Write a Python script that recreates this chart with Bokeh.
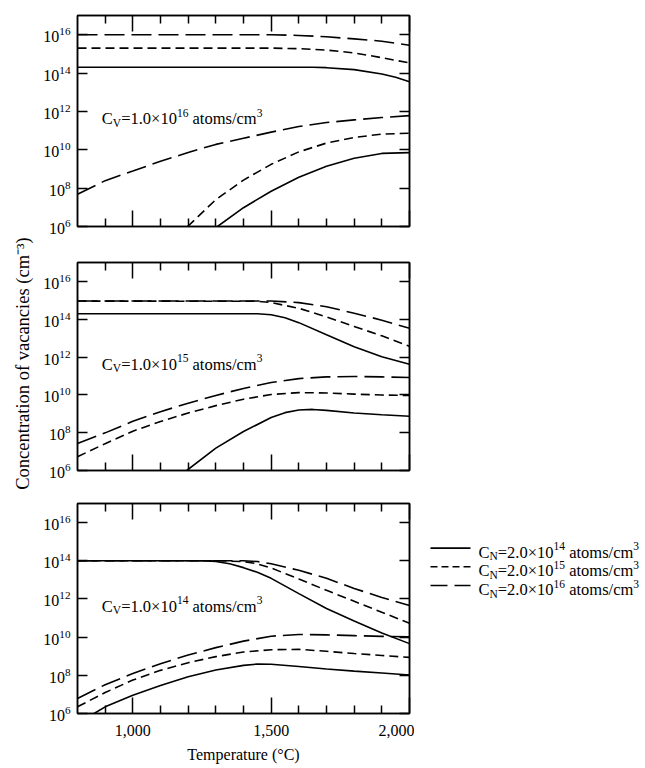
import numpy as np
from bokeh.plotting import figure
from bokeh.models import (Range1d, FixedTicker, LogAxis, LinearAxis,
                          NumeralTickFormatter, CustomJSTickFormatter, Label)
from bokeh.layouts import column, row
from bokeh.embed import file_html
from bokeh.resources import INLINE

SERIF = "Liberation Serif"

# ---------------- data (concentrations stored as log10 values) ----------------
x_major_ticks = [1000, 1500, 2000]
x_minor_ticks = [900, 1100, 1200, 1300, 1400, 1600, 1700, 1800, 1900]
y_major_ticks = [1e6, 1e8, 1e10, 1e12, 1e14, 1e16]

cv_exponents = ["16", "15", "14"]          # C_V = 1.0x10^n per panel
cn_exponents = ["14", "15", "16"]          # C_N = 2.0x10^n per line style

T_full = [800, 900, 1000, 1100, 1200, 1300, 1400, 1500, 1600, 1700, 1800, 1900, 2000]

# Panel 1: C_V = 1.0e16
p1_cn14_hi_T = [800, 1650, 1700, 1800, 1900, 1950, 2000]
p1_cn14_hi_log = [14.30, 14.30, 14.28, 14.18, 13.95, 13.78, 13.55]
p1_cn15_hi_T = [800, 1500, 1600, 1700, 1800, 1900, 2000]
p1_cn15_hi_log = [15.30, 15.30, 15.27, 15.20, 15.05, 14.80, 14.53]
p1_cn16_hi_T = [800, 1500, 1600, 1700, 1800, 1900, 2000]
p1_cn16_hi_log = [16.00, 16.00, 15.96, 15.89, 15.78, 15.66, 15.45]
p1_cn14_lo_T = [1306, 1400, 1500, 1600, 1700, 1800, 1900, 2000]
p1_cn14_lo_log = [6.00, 6.98, 7.84, 8.57, 9.14, 9.56, 9.81, 9.85]
p1_cn15_lo_T = [1198, 1300, 1400, 1500, 1600, 1700, 1800, 1900, 2000]
p1_cn15_lo_log = [6.00, 7.40, 8.42, 9.24, 9.89, 10.35, 10.64, 10.82, 10.86]
p1_cn16_lo_T = T_full
p1_cn16_lo_log = [7.68, 8.39, 8.89, 9.40, 9.86, 10.28, 10.60, 10.92, 11.21, 11.42, 11.56, 11.68, 11.78]

# Panel 2: C_V = 1.0e15
p2_cn14_hi_T = [800, 1450, 1500, 1550, 1600, 1700, 1800, 1900, 2000]
p2_cn14_hi_log = [14.29, 14.29, 14.24, 14.08, 13.82, 13.18, 12.55, 12.02, 11.62]
p2_cn15_hi_T = [800, 1450, 1500, 1600, 1700, 1800, 1900, 2000]
p2_cn15_hi_log = [14.96, 14.95, 14.88, 14.58, 14.12, 13.62, 13.12, 12.57]
p2_cn16_hi_T = [800, 1500, 1600, 1700, 1800, 1900, 2000]
p2_cn16_hi_log = [14.96, 14.96, 14.88, 14.66, 14.32, 13.95, 13.52]
p2_cn14_lo_T = [1195, 1300, 1400, 1500, 1550, 1600, 1650, 1700, 1800, 1900, 2000]
p2_cn14_lo_log = [6.00, 7.18, 8.06, 8.80, 9.06, 9.20, 9.23, 9.18, 9.04, 8.95, 8.87]
p2_cn15_lo_T = T_full
p2_cn15_lo_log = [6.73, 7.42, 8.08, 8.59, 9.04, 9.43, 9.77, 10.02, 10.12, 10.10, 10.04, 9.99, 9.97]
p2_cn16_lo_T = T_full
p2_cn16_lo_log = [7.43, 7.99, 8.60, 9.11, 9.56, 9.97, 10.34, 10.65, 10.86, 10.95, 10.97, 10.95, 10.92]

# Panel 3: C_V = 1.0e14
p3_cn14_hi_T = [800, 1250, 1300, 1350, 1400, 1450, 1500, 1600, 1700, 1800, 1900, 2000]
p3_cn14_hi_log = [14.00, 14.00, 13.96, 13.84, 13.64, 13.40, 13.08, 12.28, 11.50, 10.85, 10.22, 9.66]
p3_cn15_hi_T = [800, 1300, 1400, 1450, 1500, 1600, 1700, 1800, 1900, 2000]
p3_cn15_hi_log = [14.00, 14.00, 13.96, 13.84, 13.62, 13.05, 12.45, 11.88, 11.30, 10.73]
p3_cn16_hi_T = [800, 1400, 1450, 1500, 1600, 1700, 1800, 1900, 2000]
p3_cn16_hi_log = [14.00, 14.00, 13.96, 13.84, 13.50, 13.08, 12.55, 12.08, 11.66]
p3_cn14_lo_T = [860, 900, 1000, 1100, 1200, 1300, 1400, 1450, 1500, 1600, 1700, 1800, 1900, 2000]
p3_cn14_lo_log = [6.00, 6.35, 6.96, 7.47, 7.93, 8.28, 8.52, 8.59, 8.58, 8.46, 8.33, 8.22, 8.12, 8.02]
p3_cn15_lo_T = T_full
p3_cn15_lo_log = [6.35, 7.10, 7.75, 8.26, 8.66, 8.98, 9.22, 9.34, 9.36, 9.26, 9.14, 9.04, 8.94]
p3_cn16_lo_T = T_full
p3_cn16_lo_log = [6.79, 7.51, 8.09, 8.61, 9.06, 9.45, 9.79, 10.05, 10.14, 10.12, 10.08, 10.04, 10.02]

panel_curves = [
    [("14", p1_cn14_hi_T, p1_cn14_hi_log), ("15", p1_cn15_hi_T, p1_cn15_hi_log),
     ("16", p1_cn16_hi_T, p1_cn16_hi_log), ("14", p1_cn14_lo_T, p1_cn14_lo_log),
     ("15", p1_cn15_lo_T, p1_cn15_lo_log), ("16", p1_cn16_lo_T, p1_cn16_lo_log)],
    [("14", p2_cn14_hi_T, p2_cn14_hi_log), ("15", p2_cn15_hi_T, p2_cn15_hi_log),
     ("16", p2_cn16_hi_T, p2_cn16_hi_log), ("14", p2_cn14_lo_T, p2_cn14_lo_log),
     ("15", p2_cn15_lo_T, p2_cn15_lo_log), ("16", p2_cn16_lo_T, p2_cn16_lo_log)],
    [("14", p3_cn14_hi_T, p3_cn14_hi_log), ("15", p3_cn15_hi_T, p3_cn15_hi_log),
     ("16", p3_cn16_hi_T, p3_cn16_hi_log), ("14", p3_cn14_lo_T, p3_cn14_lo_log),
     ("15", p3_cn15_lo_T, p3_cn15_lo_log), ("16", p3_cn16_lo_T, p3_cn16_lo_log)],
]

# ---------------- styling ----------------
DASH = {"14": "solid", "15": "9 5", "16": "20 7"}
LEGEND_DASH = {"14": "solid", "15": "7 4", "16": "17 7"}
LW = 1.6

# Times / Liberation Serif advance widths (per em)
W = {" ": 0.25, "=": 0.564, ".": 0.25, "\u00d7": 0.564, "/": 0.278,
     "C": 0.667, "V": 0.722, "N": 0.722, "a": 0.444, "t": 0.278, "o": 0.5,
     "m": 0.778, "s": 0.389, "c": 0.444}
for d in "0123456789":
    W[d] = 0.5

MAIN, SMALL = 16.5, 11.5


def rich_text(p, x, y, pieces):
    off = 0.0
    for txt, kind in pieces:
        size = MAIN if kind == "n" else SMALL
        dy = {"n": 0, "sub": -4, "sup": 6}[kind]
        stripped = txt.lstrip(" ")
        lead = (len(txt) - len(stripped)) * W[" "] * size
        p.add_layout(Label(x=x, y=y, x_offset=off + lead, y_offset=dy, text=stripped,
                           text_font=SERIF, text_font_size=f"{size}px", text_color="black",
                           text_baseline="alphabetic", text_align="left"))
        off += sum(W[c] for c in txt) * size


def style_axis(ax, major_in, minor_in):
    ax.axis_line_color = "black"
    ax.axis_line_width = 1.5
    ax.major_tick_in = major_in
    ax.major_tick_out = 0
    ax.minor_tick_in = minor_in
    ax.minor_tick_out = 0
    ax.major_tick_line_color = "black"
    ax.minor_tick_line_color = "black"
    ax.major_tick_line_width = 1.5
    ax.minor_tick_line_width = 1.5
    ax.major_label_text_font = SERIF
    ax.major_label_text_color = "black"
    ax.major_label_text_font_size = "16px"
    ax.major_label_text_font_style = "normal"


def blank(ax):
    ax.formatter = CustomJSTickFormatter(code="return ''")
    ax.major_label_text_font_size = "1px"
    ax.major_label_standoff = 0


YL_W = 38
FRAME_W = 332
LEFT_B = 39
RIGHT_B = 5
specs = [(211, 15, 18), (208, 18, 17), (210, 16, 55)]

figs = []
for i, (fh, bt, bb) in enumerate(specs):
    last = i == 2
    p = figure(x_range=Range1d(800, 2000), y_range=Range1d(1e6, 1e17), y_axis_type="log",
               frame_width=FRAME_W, frame_height=fh,
               min_border_left=LEFT_B, min_border_right=RIGHT_B,
               min_border_top=bt, min_border_bottom=bb,
               output_backend="svg", toolbar_location=None)
    p.grid.visible = False
    p.outline_line_color = "black"
    p.outline_line_width = 1.5
    p.background_fill_color = "white"
    p.border_fill_color = "white"

    xt = FixedTicker(ticks=x_major_ticks, minor_ticks=x_minor_ticks)
    yt = FixedTicker(ticks=y_major_ticks, minor_ticks=[])

    bx = p.xaxis[0]
    bx.ticker = xt
    style_axis(bx, 16, 8)
    if last:
        bx.formatter = NumeralTickFormatter(format="0,0")
        bx.major_label_standoff = 11
        bx.axis_label = "Temperature (\u00b0C)"
        bx.axis_label_text_font = SERIF
        bx.axis_label_text_font_size = "16px"
        bx.axis_label_text_font_style = "normal"
        bx.axis_label_text_color = "black"
        bx.axis_label_standoff = 7
    else:
        blank(bx)

    ly = p.yaxis[0]
    ly.ticker = yt
    style_axis(ly, 10, 0)
    ly.major_label_standoff = 7

    top = LinearAxis(ticker=xt)
    style_axis(top, 16, 8)
    blank(top)
    p.add_layout(top, "above")

    ry = LogAxis(ticker=yt)
    style_axis(ry, 10, 0)
    blank(ry)
    p.add_layout(ry, "right")

    for cn, T, logs in panel_curves[i]:
        p.line(T, 10.0 ** np.asarray(logs), line_color="black", line_width=LW,
               line_dash=DASH[cn])

    rich_text(p, 888, 10 ** 11.63,
              [("C", "n"), ("V", "sub"), ("=1.0\u00d710", "n"), (cv_exponents[i], "sup"),
               (" atoms/cm", "n"), ("3", "sup")])
    figs.append(p)

# legend figure (to the right of the bottom panel)
LEG_W = 645 - YL_W - (LEFT_B + FRAME_W + RIGHT_B)
LEG_H = specs[2][1] + specs[2][0] + specs[2][2]
leg = figure(width=LEG_W, height=LEG_H, x_range=Range1d(0, LEG_W), y_range=Range1d(LEG_H, 0),
             x_axis_type=None, y_axis_type=None, min_border=0, outline_line_color=None,
             output_backend="svg", toolbar_location=None)
leg.grid.visible = False
row_y = [59.7, 84.7, 109.7]
for cn, yy in zip(cn_exponents, row_y):
    leg.line([16, 56], [yy, yy], line_color="black", line_width=LW, line_dash=LEGEND_DASH[cn])
    lab_pieces = [("C", "n"), ("N", "sub"), ("=2.0\u00d710", "n"), (cn, "sup"),
                  (" atoms/cm", "n"), ("3", "sup")]
    rich_text(leg, 64, yy + 5.5, lab_pieces)

# y-axis title figure (shared, on the far left)
TOTAL_H = sum(bt + fh + bb for fh, bt, bb in specs)
yl = figure(width=YL_W, height=TOTAL_H, x_range=Range1d(0, YL_W), y_range=Range1d(TOTAL_H, 0),
            x_axis_type=None, y_axis_type=None, min_border=0, outline_line_color=None,
            output_backend="svg", toolbar_location=None)
yl.grid.visible = False
yl.add_layout(Label(x=22, y=363, angle=np.pi / 2, text="Concentration of vacancies (cm\u207b\u00b3)",
                    text_font=SERIF, text_font_size="18.5px", text_color="black",
                    text_align="center", text_baseline="middle"))

layout = row(yl, column(figs[0], figs[1], row(figs[2], leg)))

with open("out.html", "w") as f:
    f.write(file_html(layout, INLINE))
